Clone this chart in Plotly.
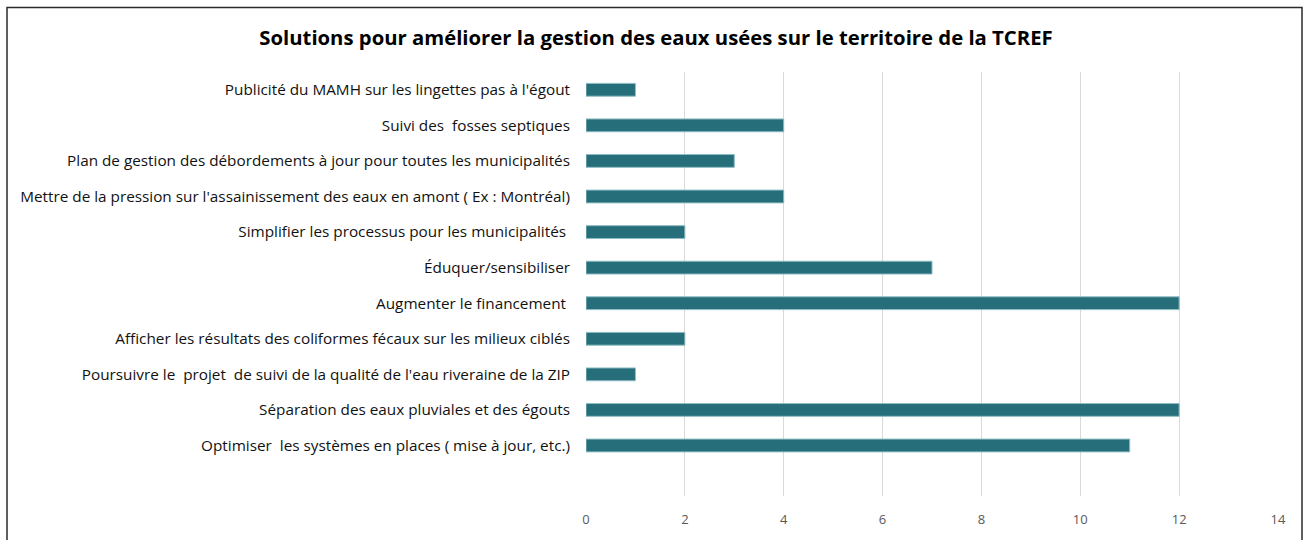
import plotly.graph_objects as go

# Categories listed bottom to top
categories = [
    "Optimiser  les systèmes en places ( mise à jour, etc.)",
    "Séparation des eaux pluviales et des égouts",
    "Poursuivre le  projet  de suivi de la qualité de l'eau riveraine de la ZIP",
    "Afficher les résultats des coliformes fécaux sur les milieux ciblés",
    "Augmenter le financement ",
    "Éduquer/sensibiliser",
    "Simplifier les processus pour les municipalités ",
    "Mettre de la pression sur l'assainissement des eaux en amont ( Ex : Montréal)",
    "Plan de gestion des débordements à jour pour toutes les municipalités",
    "Suivi des  fosses septiques",
    "Publicité du MAMH sur les lingettes pas à l'égout",
]
values = [11, 12, 1, 2, 12, 7, 2, 4, 3, 4, 1]
x_ticks = [0, 2, 4, 6, 8, 10, 12, 14]
title_text = "Solutions pour améliorer la gestion des eaux usées sur le territoire de la TCREF"

W, H = 1306, 540
L, R, T, B = 586, 1278, 72, 500

fig = go.Figure(go.Bar(
    y=categories, x=values, orientation="h",
    marker=dict(color="#266f7a", line=dict(color="#8fbcc3", width=1)),
    width=0.36,
))

def px_x(px):
    return (px - L) / (R - L)

def px_y(py):
    return (B - py) / (B - T)

fig.update_layout(
    width=W, height=H,
    margin=dict(l=L, r=W - R, t=T, b=H - B, pad=0),
    paper_bgcolor="white", plot_bgcolor="white",
    showlegend=False,
    font=dict(family="Open Sans, Liberation Sans, sans-serif"),
    title=dict(text="<b>" + title_text + "</b>", x=656 / W, xanchor="center",
               y=1 - 38 / H, yanchor="middle", xref="container", yref="container",
               font=dict(size=20.3, color="#000000", family="Open Sans, sans-serif")),
    xaxis=dict(range=[0, 14], tickvals=x_ticks, showgrid=True, gridcolor="#d9d9d9",
               gridwidth=1, zeroline=False, showline=False,
               tickfont=dict(size=13, color="#595959"), ticks="", ticklabelstandoff=14),
    yaxis=dict(type="category", categoryorder="array", categoryarray=categories,
               range=[-1.42, 10.5], showgrid=False, zeroline=False, showline=False,
               tickfont=dict(size=15.3, color="#111111"), ticks="", ticklabelstandoff=15),
    shapes=[dict(type="rect", xref="paper", yref="paper",
                 x0=px_x(7), x1=px_x(1302), y0=px_y(548), y1=px_y(7),
                 line=dict(color="#2b2b2b", width=1.5), fillcolor="rgba(0,0,0,0)", layer="below")],
)

fig.write_html("out.html")
